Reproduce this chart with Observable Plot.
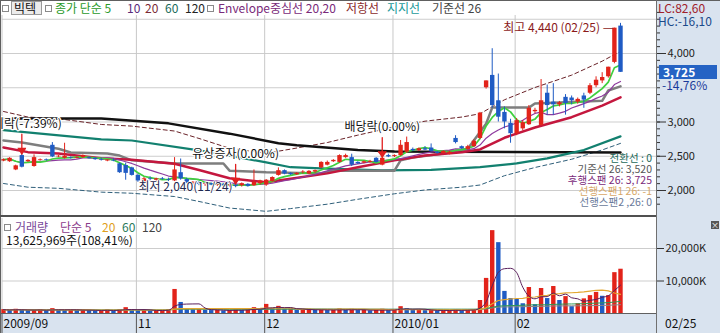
<!DOCTYPE html>
<html><head><meta charset="utf-8">
<script src="https://cdn.jsdelivr.net/npm/d3@7"></script>
<script src="https://cdn.jsdelivr.net/npm/@observablehq/plot@0.6"></script>
<style>
body{margin:0;background:#fff;}
#wrap{position:relative;width:720px;height:333px;overflow:hidden;background:#fff;font-family:"Noto Sans CJK KR","Noto Sans",sans-serif;}
.t{position:absolute;white-space:nowrap;line-height:1;}
.bg{position:absolute;}
svg{position:absolute;left:0;}
</style></head>
<body><div id="wrap">
<div class="bg" style="left:656px;top:0;width:64px;height:333px;background:#d9e3ef"></div>
<div class="bg" style="left:0;top:313px;width:656px;height:20px;background:#d9e3ef"></div>
</div>
<script>
// ---- data (2009-09-30 .. 2010-02-25, trading days) ----
const open  = [2430,2420,2300,2510,2420,2350,2440,2450,2660,2490,2470,2480,2470,2480,2480,2470,2450,2430,2440,2390,2365,2330,2220,2110,2170,2150,2170,2160,2140,2260,2160,2110,2110,2090,2100,2080,2090,2070,2080,2070,2090,2070,2100,2080,2130,2220,2290,2250,2230,2260,2240,2270,2330,2370,2420,2410,2480,2480,2410,2400,2410,2470,2370,2510,2495,2510,2560,2600,2580,2610,2620,2560,2540,2530,2760,2640,2600,2640,2760,3500,3680,3310,3140,2980,2830,2900,2960,3150,2950,3420,3290,3250,3360,3350,3290,3380,3420,3530,3600,3660,3870,4400];
const high  = [2460,2480,2370,2530,2450,2520,2460,2460,2700,2510,2690,2490,2490,2520,2490,2480,2470,2450,2460,2400,2400,2340,2240,2190,2200,2180,2190,2180,2480,2460,2180,2130,2130,2110,2110,2100,2100,2090,2090,2110,2100,2300,2150,2160,2200,2330,2300,2260,2260,2290,2290,2300,2420,2430,2450,2520,2530,2530,2420,2430,2440,2480,2480,2530,2520,2730,2780,2620,2620,2640,2680,2570,2580,2570,2800,2650,2660,2740,3140,3600,4070,3700,3220,3040,3050,3020,3240,3200,3620,3540,3560,3300,3400,3380,3350,3420,3560,3660,3720,3800,4370,4440];
const low   = [2420,2410,2290,2330,2410,2340,2430,2430,2480,2480,2460,2460,2460,2470,2460,2440,2430,2420,2420,2250,2150,2210,2120,2090,2140,2120,2150,2130,2130,2150,2100,2080,2070,2060,2070,2060,2060,2050,2040,2050,2050,2060,2080,2060,2120,2210,2230,2220,2220,2240,2230,2250,2320,2360,2410,2400,2470,2350,2380,2390,2400,2400,2360,2480,2480,2500,2540,2570,2570,2580,2560,2530,2530,2520,2680,2600,2590,2630,2740,3480,3200,3000,2900,2690,2800,2870,2950,3120,2940,3100,3100,3220,3100,3250,3260,3200,3400,3500,3560,3640,3850,3725];
const close = [2450,2470,2360,2340,2440,2480,2450,2440,2490,2500,2500,2470,2480,2510,2465,2450,2440,2445,2430,2260,2250,2220,2140,2170,2160,2170,2160,2150,2300,2170,2110,2120,2090,2100,2080,2090,2070,2080,2060,2100,2060,2120,2140,2150,2190,2290,2240,2230,2250,2270,2280,2290,2410,2410,2440,2510,2510,2370,2390,2420,2425,2410,2470,2490,2510,2660,2700,2580,2610,2590,2570,2540,2570,2560,2700,2610,2640,2720,3130,3600,3240,3070,3000,2830,3020,2990,3200,3170,3310,3240,3250,3280,3270,3310,3330,3320,3530,3610,3650,3800,4370,3725];
// volume, thousand shares
const volume = [1200,1000,1300,1100,900,1000,1200,900,1500,1100,1000,1200,900,1100,1000,800,900,1100,900,1200,1800,1100,900,1000,800,900,1000,1200,7400,3400,1500,1200,1300,1000,900,1100,800,900,1200,1000,1400,1800,1200,2800,1500,2200,1300,1400,1000,1100,1300,1000,1200,900,1000,1400,1100,1300,900,1000,800,1100,1300,900,1200,2100,1500,1000,1100,900,1000,800,900,1000,1200,900,1000,1200,4000,10800,25500,21800,6800,4600,4300,3000,8000,2700,7700,4600,8300,4000,5200,2100,3000,4500,5500,6500,5300,5500,12569,13626];
// indicator lines (day index -> price)
const ma20Idx  = [0,4,9,16,21,28,32,37,43,47,53,58,64,69,75,78,82,87,93,98,101];
const ma20Val  = [2628,2560,2540,2470,2450,2390,2300,2180,2120,2170,2250,2340,2440,2510,2560,2600,2770,2920,3070,3240,3360];
const ma60Idx  = [0,16,21,32,37,43,47,53,62,70,78,84,89,95,101];
const ma60Val  = [2880,2745,2730,2585,2510,2410,2340,2320,2295,2300,2340,2395,2470,2590,2790];
const ma120Idx = [0,16,27,37,45,48,58,64,73,101];
const ma120Val = [3050,3050,2980,2830,2690,2660,2590,2570,2565,2555];
const baseIdx  = [0,3,9,11,17,19,21,28,36,37,43,52,54,64,65,67,72,76,79,80,86,87,98,99,101];
const baseVal  = [2730,2700,2610,2555,2540,2510,2440,2395,2395,2290,2265,2250,2290,2290,2440,2480,2540,2610,2975,3210,3210,3270,3310,3460,3520];
// events / labels
const eventIdx  = [3,38,62];
const eventText = ["권리락(-7.39%)","유상증자(0.00%)","배당락(0.00%)"];
const hiText = "최고 4,440 (02/25) —";
const loText = "최저 2,040(11/24)";
const monthStart  = [0,22,43,64,84];
const monthLabels = ["2009/09","11","12","2010/01","02"];
const priceTicks = [2000,2500,3000,4000];
const volTicks = [10000,20000];
const ichimokuText = ["전환선 : 0","기준선 26: 3,520","후행스팬 26: 3,725","선행스팬1 26: -1","선행스팬2 ,26: 0"];

// ---- build ----
const FONT = '"Noto Sans CJK KR","Noto Sans",sans-serif';
const UP = "#e2231a", DN = "#1f5bc4";
const N = close.length;
const candles = d3.range(N).map(i => ({i, o: open[i], h: high[i], l: low[i], c: close[i]}));
const ccol = d => d.c >= d.o ? UP : DN;
const pts = (I, V) => I.map((i, k) => ({i, v: V[k]}));
const ma20 = pts(ma20Idx, ma20Val), ma60 = pts(ma60Idx, ma60Val), ma120 = pts(ma120Idx, ma120Val), base = pts(baseIdx, baseVal);
const events = eventIdx.map((i, k) => ({i, h: high[i], t: eventText[k]}));
const hiI = d3.maxIndex(high), loI = d3.minIndex(low);
const xOpt = {type: "linear", domain: [0, N - 1], range: [3, 620], axis: null};

const price = Plot.plot({
  width: 720, height: 215, marginLeft: 2, marginRight: 64, marginTop: 15, marginBottom: 0,
  style: {background: "transparent", fontFamily: FONT, overflow: "visible"},
  x: xOpt,
  y: {domain: [2000, 4000], range: [190, 53], axis: null, label: null},
  marks: [
    Plot.ruleY(d3.range(2000, 4501, 500), {stroke: "#cdcdcd"}),
    Plot.ruleX(monthStart, {stroke: "#c8c8c8", dx: -1.5}),
    Plot.axisY(d3.range(1800, 4601, 100), {anchor: "right", label: null, tickSize: 3, tickFormat: () => "", stroke: "#333"}),
    Plot.axisY(priceTicks, {anchor: "right", label: null, tickSize: 9, tickPadding: 2, tickFormat: d3.format(","), fontSize: 11, fill: "#222", stroke: "#333"}),
    Plot.line(ma20, {x: "i", y: d => d.v * 1.2, stroke: "#6a2228", strokeWidth: 1, strokeDasharray: "4,3"}),
    Plot.line(ma20, {x: "i", y: d => d.v * 0.8, stroke: "#2f5f7a", strokeWidth: 1, strokeDasharray: "4,3"}),
    Plot.line(ma120, {x: "i", y: "v", stroke: "#111", strokeWidth: 2.5}),
    Plot.line(ma60, {x: "i", y: "v", stroke: "#12806f", strokeWidth: 2.2}),
    Plot.line(base, {x: "i", y: "v", stroke: "#7e7e7e", strokeWidth: 2.5}),
    Plot.line(ma20, {x: "i", y: "v", stroke: "#c4173e", strokeWidth: 2.5}),
    Plot.lineY(candles, Plot.windowY({k: 10, anchor: "end"}, {x: "i", y: "c", stroke: "#8e3a9e", strokeWidth: 1.2})),
    Plot.lineY(candles, Plot.windowY({k: 5, anchor: "end"}, {x: "i", y: "c", stroke: "#3fd03f", strokeWidth: 1.7})),
    Plot.ruleX(candles, {x: "i", y1: "l", y2: "h", stroke: ccol, strokeWidth: 1}),
    Plot.ruleX(candles, {x: "i", y1: "o", y2: "c", stroke: ccol, strokeWidth: 4.4}),
    Plot.vector(events, {x: "i", y: "h", length: 18, rotate: 180, anchor: "end", dy: -2, stroke: "#e02020", strokeWidth: 1.3}),
    Plot.dot(events, {x: "i", y: "h", symbol: "triangle", rotate: 180, r: 3.2, fill: "#e02020", dy: -4}),
    Plot.text(events, {x: "i", y: "h", text: "t", dy: -30, fontSize: 12, fill: "#111", stroke: "#fff", strokeWidth: 2.5}),
    Plot.text([hiI], {x: d => d, y: d => high[d], text: () => hiText, textAnchor: "end", dx: -7, dy: 5, fontSize: 12, fill: "#8b1a1a"}),
    Plot.text([loI], {x: d => d, y: d => low[d], text: () => loText, textAnchor: "end", dx: -3, dy: -1, fontSize: 12, fill: "#1e2850", stroke: "#fff", strokeWidth: 1.5})
  ]
});
price.style.top = "0px";

const vol = d3.range(N).map(i => ({i, v: volume[i], up: i === 0 || volume[i] > volume[i - 1]}));
const volPlot = Plot.plot({
  width: 720, height: 118, marginLeft: 2, marginRight: 64, marginTop: 3, marginBottom: 20,
  style: {background: "transparent", fontFamily: FONT, overflow: "visible"},
  x: xOpt,
  y: {domain: [0, 20000], range: [98, 33], axis: null, label: null},
  marks: [
    Plot.ruleY(volTicks, {stroke: "#cdcdcd"}),
    Plot.ruleX(monthStart, {stroke: "#c8c8c8", dx: -1.5}),
    Plot.ruleX(monthStart, {y1: 0, y2: 0, insetBottom: -20, stroke: "#555", dx: -1.5}),
    Plot.ruleX(vol, {x: "i", y1: 0, y2: "v", stroke: d => d.up ? UP : DN, strokeWidth: 4.4}),
    Plot.lineY(vol, Plot.windowY({k: 120, anchor: "end"}, {x: "i", y: "v", stroke: "#8a8a8a", strokeWidth: 1})),
    Plot.lineY(vol, Plot.windowY({k: 60, anchor: "end"}, {x: "i", y: "v", stroke: "#2f9a55", strokeWidth: 1})),
    Plot.lineY(vol, Plot.windowY({k: 20, anchor: "end"}, {x: "i", y: "v", stroke: "#e3a832", strokeWidth: 1.2})),
    Plot.lineY(vol, Plot.windowY({k: 5, anchor: "end"}, {x: "i", y: "v", stroke: "#5a1f5c", strokeWidth: 1, curve: "monotone-x"})),
    Plot.axisY(volTicks, {anchor: "right", label: null, tickSize: 7, tickPadding: 2, tickFormat: d => d3.format(",")(d) + "K", fontSize: 11, fill: "#222", stroke: "#333"}),
    Plot.text(monthStart, {x: d => d, y: 0, text: (d, k) => monthLabels[k], textAnchor: "start", dx: 0, dy: 11, fontSize: 12, fill: "#111"})
  ]
});
volPlot.style.top = "215px";

const wrap = document.getElementById("wrap");
wrap.appendChild(price);
wrap.appendChild(volPlot);

function txt(x, y, s, color, size = 12, align = "left", extra = {}) {
  const d = document.createElement("div");
  d.className = "t";
  d.textContent = s;
  d.style.color = color;
  d.style.fontSize = size + "px";
  d.style.top = (y - size * 0.5) + "px";
  if (align === "right") d.style.right = (720 - x) + "px"; else d.style.left = x + "px";
  Object.assign(d.style, extra);
  wrap.appendChild(d);
  return d;
}
function box(x, y, w, h, styles) {
  const d = document.createElement("div");
  d.className = "bg";
  Object.assign(d.style, {left: x + "px", top: y + "px", width: w + "px", height: h + "px"}, styles);
  wrap.appendChild(d);
  return d;
}
const sq = (x, y) => box(x, y, 5, 5, {border: "1px solid #8a8a8a", background: "#fff"});

// frame lines
box(0, 0, 720, 1, {background: "#606060"});
box(0, 0, 1, 333, {background: "#606060"});
box(656, 0, 1, 333, {background: "#707070"});
box(0, 215, 656, 2, {background: "#505050"});
box(0, 313, 656, 1, {background: "#606060"});

// top legend
sq(2, 5);
box(11, 1, 31, 14, {background: "#ececec", border: "1px solid #9a9a9a", boxSizing: "border-box"});
txt(14, 8, "빅텍", "#111", 12);
sq(45, 5);
txt(55, 8, "종가 단순 5", "#2a9a2a", 12);
txt(127, 8, "10", "#5a2a7a", 12);
txt(145, 8, "20", "#7a2a35", 12);
txt(165, 8, "60", "#1a6a5a", 12);
txt(185, 8, "120", "#222", 12);
sq(207, 5);
txt(218, 8, "Envelope중심선 20,20", "#7a2a7a", 12);
txt(346, 8, "저항선", "#8a2a2a", 12);
txt(387, 8, "지지선", "#1a9a9a", 12);
txt(432, 8, "기준선 26", "#444", 12);

// right panel price info
txt(658, 8, "LC:82,60", "#a0202a", 12);
txt(658, 21, "HC:-16,10", "#1a4a8a", 12);
const yc = price.scale("y").apply(close[N - 1]);
box(659, yc - 7, 58, 14, {background: "#2563c4"});
txt(663, yc, d3.format(",")(close[N - 1]), "#fff", 12, "left", {fontWeight: "bold"});
txt(662, yc + 13, "-14,76%", "#1a3a9a", 12);

// ichimoku values
const ichiColors = ["#1a6a5a", "#555", "#7a2a7a", "#d8a868", "#6a7a9a"];
ichimokuText.forEach((s, k) => txt(652, 158 + k * 11, s, ichiColors[k], 10.5, "right"));

// volume legend
sq(4, 224);
txt(15, 227, "거래량", "#7a4a9a", 12);
txt(60, 227, "단순 5", "#8a3a8a", 12);
txt(102, 227, "20", "#e0a020", 12);
txt(122, 227, "60", "#2a7a5a", 12);
txt(142, 227, "120", "#444", 12);
txt(6, 240, "13,625,969주(108,41%)", "#111", 12);
const xb = box(711, 221, 8, 8, {background: "#555", color: "#fff", fontSize: "8px", lineHeight: "8px", textAlign: "center"});
xb.textContent = "×";

// x-axis right label
txt(665, 323, "02/25", "#111", 12);
</script>
</body></html>
